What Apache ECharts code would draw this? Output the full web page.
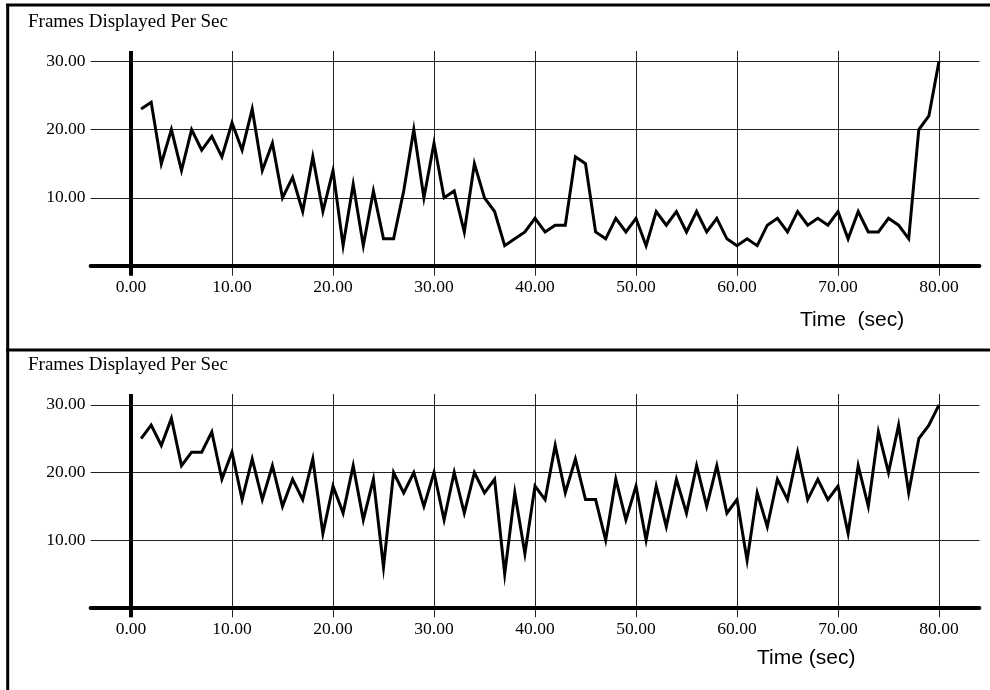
<!DOCTYPE html>
<html>
<head>
<meta charset="utf-8">
<title>Frames Displayed Per Sec</title>
<script src="https://cdn.jsdelivr.net/npm/echarts@6/dist/echarts.min.js"></script>
<style>
  html, body { margin: 0; padding: 0; background: #fff; }
  #chart { width: 990px; height: 690px; }
</style>
</head>
<body>
<div id="chart"></div>
<script>
// time stamps (sec) shared by both runs
const seconds = [
  1, 2, 3, 4, 5, 6, 7, 8, 9, 10,
  11, 12, 13, 14, 15, 16, 17, 18, 19, 20,
  21, 22, 23, 24, 25, 26, 27, 28, 29, 30,
  31, 32, 33, 34, 35, 36, 37, 38, 39, 40,
  41, 42, 43, 44, 45, 46, 47, 48, 49, 50,
  51, 52, 53, 54, 55, 56, 57, 58, 59, 60,
  61, 62, 63, 64, 65, 66, 67, 68, 69, 70,
  71, 72, 73, 74, 75, 76, 77, 78, 79, 80
];

// frames displayed per second, upper panel
const fpsTop = [
  23, 24, 15, 20, 14, 20, 17, 19, 16, 21,
  17, 23, 14, 18, 10, 13, 8, 16, 8, 14,
  3, 12, 3, 11, 4, 4, 11, 20, 10, 18,
  10, 11, 5, 15, 10, 8, 3, 4, 5, 7,
  5, 6, 6, 16, 15, 5, 4, 7, 5, 7,
  3, 8, 6, 8, 5, 8, 5, 7, 4, 3,
  4, 3, 6, 7, 5, 8, 6, 7, 6, 8,
  4, 8, 5, 5, 7, 6, 4, 20, 22, 30
];

// frames displayed per second, lower panel
const fpsBottom = [
  25, 27, 24, 28, 21, 23, 23, 26, 19, 23,
  16, 22, 16, 21, 15, 19, 16, 22, 11, 18,
  14, 21, 13, 19, 6, 20, 17, 20, 15, 20,
  13, 20, 14, 20, 17, 19, 5, 17, 8, 18,
  16, 24, 17, 22, 16, 16, 10, 19, 13, 18,
  10, 18, 12, 19, 14, 21, 15, 21, 14, 16,
  7, 17, 12, 19, 16, 23, 16, 19, 16, 18,
  11, 21, 15, 26, 20, 27, 17, 25, 27, 30
];

const timeTicks = [0, 10, 20, 30, 40, 50, 60, 70, 80];
const fpsTicks = [10, 20, 30];

const SERIF = '"Liberation Serif", "Times New Roman", serif';
const SANS = '"Liberation Sans", Arial, sans-serif';

const chart = echarts.init(document.getElementById('chart'));

function makeXAxis(gridIndex) {
  return {
    type: 'value',
    gridIndex: gridIndex,
    min: -4,
    max: 84,
    axisLine: { onZero: true, lineStyle: { color: '#000', width: 4 } },
    axisTick: { show: false, customValues: timeTicks },
    axisLabel: {
      customValues: timeTicks,
      formatter: v => v.toFixed(2),
      color: '#000',
      fontFamily: SERIF,
      fontSize: 17.5,
      margin: 3
    },
    splitLine: { show: true, lineStyle: { color: '#222', width: 1 } }
  };
}

function makeYAxis(gridIndex, max) {
  return {
    type: 'value',
    gridIndex: gridIndex,
    min: -1.4,
    max: max,
    axisLine: { show: false, onZero: false },
    axisTick: { show: false, customValues: fpsTicks },
    axisLabel: {
      customValues: fpsTicks,
      formatter: v => v.toFixed(2),
      color: '#000',
      fontFamily: SERIF,
      fontSize: 17.5,
      margin: 5,
      padding: [0, 0, 6, 0]
    },
    splitLine: { show: true, lineStyle: { color: '#222', width: 1 } }
  };
}

function makeSeries(idx, values) {
  return {
    type: 'line',
    xAxisIndex: idx,
    yAxisIndex: idx,
    data: seconds.map((t, i) => [t, values[i]]),
    symbol: 'none',
    lineStyle: { color: '#000', width: 3, join: 'miter' },
    z: 5,
    // thick vertical axis at time 0
    markLine: {
      silent: true,
      symbol: 'none',
      label: { show: false },
      lineStyle: { color: '#000', width: 4, type: 'solid' },
      data: [{ xAxis: 0 }]
    }
  };
}

const titleFont = { fontFamily: SERIF, fontSize: 19, fontWeight: 'normal', color: '#000' };
const nameFont = { fontFamily: SANS, fontSize: 21, fontWeight: 'normal', color: '#000' };

const options = {
  animation: false,
  backgroundColor: '#fff',
  title: [
    { text: 'Frames Displayed Per Sec', left: 23, top: 8, textStyle: titleFont },
    { text: 'Frames Displayed Per Sec', left: 23, top: 351, textStyle: titleFont },
    { text: 'Time  (sec)', left: 795, top: 305, textStyle: nameFont },
    { text: 'Time (sec)', left: 752, top: 643, textStyle: nameFont }
  ],
  grid: [
    { left: 90.6, width: 888.8, top: 51, height: 224.7 },
    { left: 90.6, width: 888.8, top: 394, height: 223.3 }
  ],
  xAxis: [makeXAxis(0), makeXAxis(1)],
  yAxis: [makeYAxis(0, 31.5), makeYAxis(1, 31.6)],
  series: [makeSeries(0, fpsTop), makeSeries(1, fpsBottom)],
  // panel frame lines
  graphic: [
    { type: 'line', shape: { x1: 6, y1: 5, x2: 990, y2: 5 }, style: { stroke: '#000', lineWidth: 3 } },
    { type: 'line', shape: { x1: 7.7, y1: 4, x2: 7.7, y2: 690 }, style: { stroke: '#000', lineWidth: 3 } },
    { type: 'line', shape: { x1: 6, y1: 350, x2: 990, y2: 350 }, style: { stroke: '#000', lineWidth: 3 } }
  ]
};

chart.setOption(options);
</script>
</body>
</html>
